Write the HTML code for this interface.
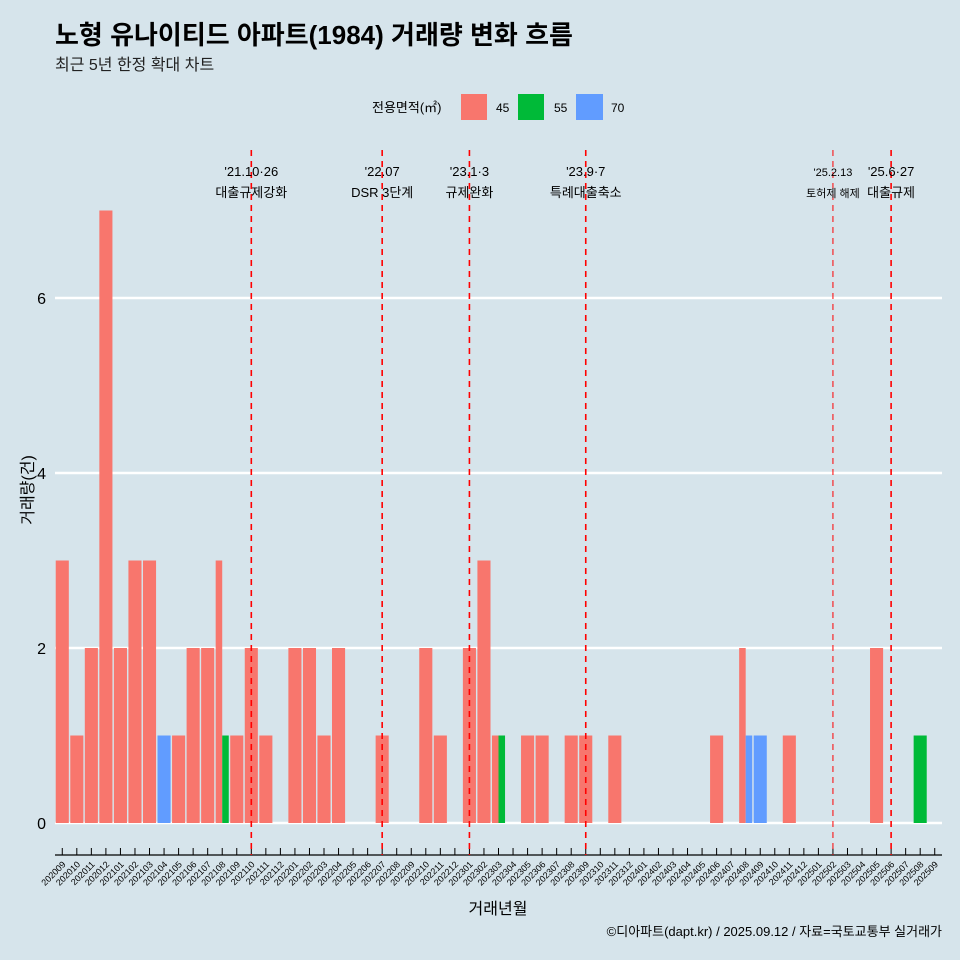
<!DOCTYPE html>
<html><head><meta charset="utf-8"><style>
body{margin:0;background:#d6e4eb;font-family:"Liberation Sans","Noto Sans CJK KR",sans-serif}
</style></head><body>
<svg id="c" width="960" height="960" xmlns="http://www.w3.org/2000/svg" style="display:block;background:#d6e4eb">
<text x="55" y="44" font-size="26" font-weight="bold" fill="#000" font-family="Liberation Sans, Noto Sans CJK KR, sans-serif">노형 유나이티드 아파트(1984) 거래량 변화 흐름</text>
<text x="55" y="70" font-size="16" fill="#222" font-family="Liberation Sans, Noto Sans CJK KR, sans-serif">최근 5년 한정 확대 차트</text>
<g font-family="Liberation Sans, Noto Sans CJK KR, sans-serif">
<text x="372" y="112" font-size="13">전용면적(㎡)</text>
<rect x="461" y="94" width="26" height="26" fill="#f8766d"/>
<text x="496" y="112" font-size="12">45</text>
<rect x="518" y="94" width="26" height="26" fill="#00ba38"/>
<text x="554" y="112" font-size="12">55</text>
<rect x="576" y="94" width="27" height="26" fill="#619cff"/>
<text x="611" y="112" font-size="12">70</text>
</g>
<g id="plot"></g>
<text transform="translate(33,490) rotate(-90)" text-anchor="middle" font-size="16" font-family="Liberation Sans, Noto Sans CJK KR, sans-serif">거래량(건)</text>
<text x="498" y="914" text-anchor="middle" font-size="16" font-family="Liberation Sans, Noto Sans CJK KR, sans-serif">거래년월</text>
<text x="942" y="936" text-anchor="end" font-size="13" font-family="Liberation Sans, Noto Sans CJK KR, sans-serif">©디아파트(dapt.kr) / 2025.09.12 / 자료=국토교통부 실거래가</text>
</svg>
<script>
const months=[];for(let y=2020,m=9;!(y===2025&&m===10);){months.push(''+y+(m<10?'0':'')+m);m++;if(m>12){m=1;y++;}}
const s45={"202009":3,"202010":1,"202011":2,"202012":7,"202101":2,"202102":3,"202103":3,"202105":1,"202106":2,"202107":2,"202108":3,"202109":1,"202110":2,"202111":1,"202201":2,"202202":2,"202203":1,"202204":2,"202207":1,"202210":2,"202211":1,"202301":2,"202302":3,"202303":1,"202305":1,"202306":1,"202308":1,"202309":1,"202311":1,"202406":1,"202408":2,"202411":1,"202505":2};
const s55={"202108":1,"202303":1,"202508":1};
const s70={"202104":1,"202408":1,"202409":1};
const yTicks=[0,2,4,6];
const events=[["202110","'21.10·26","대출규제강화",13,false],["202207","'22.07","DSR 3단계",13,false],["202301","'23.1·3","규제완화",13,false],["202309","'23.9·7","특례대출축소",13,false],["202502","'25.2.13","토허제 해제",11,true],["202506","'25.6·27","대출규제",13,false]];
const NS="http://www.w3.org/2000/svg",g=document.getElementById('plot');
const X0=55,X1=942,bw=(X1-X0)/months.length;
const xc=m=>X0+bw*(months.indexOf(m)+0.5);
const yv=v=>823-v*87.5;
function mk(t,a){const e=document.createElementNS(NS,t);for(const k in a)e.setAttribute(k,a[k]);g.appendChild(e);return e;}
yTicks.forEach(v=>{const l=mk('line',{x1:X0,x2:X1,y1:yv(v),y2:yv(v),stroke:'#fff','stroke-width':2.5});


const t=mk('text',{x:46,y:yv(v)+6,'text-anchor':'end','font-size':16,'font-family':'Liberation Sans, sans-serif'});t.textContent=v;

});
const series=[[s45,'#f8766d','45'],[s55,'#00ba38','55'],[s70,'#619cff','70']];
months.forEach(m=>{const present=series.filter(s=>s[0][m]);const W=bw*0.9;const w=W/Math.max(present.length,1);
present.forEach((s,i)=>{const x=xc(m)-W/2+i*w;const v=s[0][m];
const r=mk('rect',{x:x,y:yv(v),width:w,height:yv(0)-yv(v),fill:s[1]});

});});
mk('line',{x1:X0,x2:X1,y1:855,y2:855,stroke:'#000','stroke-width':1.2});
months.forEach(m=>{const x=xc(m);mk('line',{x1:x,x2:x,y1:848,y2:855,stroke:'#000','stroke-width':1});
const t=mk('text',{transform:`translate(${x+4},${865}) rotate(-45)`,'text-anchor':'end','font-size':9,'font-family':'Liberation Sans, sans-serif'});t.textContent=m;

});
events.forEach(e=>{const x=xc(e[0]);const l=mk('line',{x1:x,x2:x,y1:150,y2:855,stroke:'#ff0000','stroke-width':e[4]?1:1.6,'stroke-dasharray':'6,5'});


const a=mk('text',{x:x,y:176,'text-anchor':'middle','font-size':e[3],'font-family':'Liberation Sans, Noto Sans CJK KR, sans-serif'});a.textContent=e[1];


const b=mk('text',{x:x,y:197,'text-anchor':'middle','font-size':e[3],'font-family':'Liberation Sans, Noto Sans CJK KR, sans-serif'});b.textContent=e[2];

});
</script>
</body></html>
